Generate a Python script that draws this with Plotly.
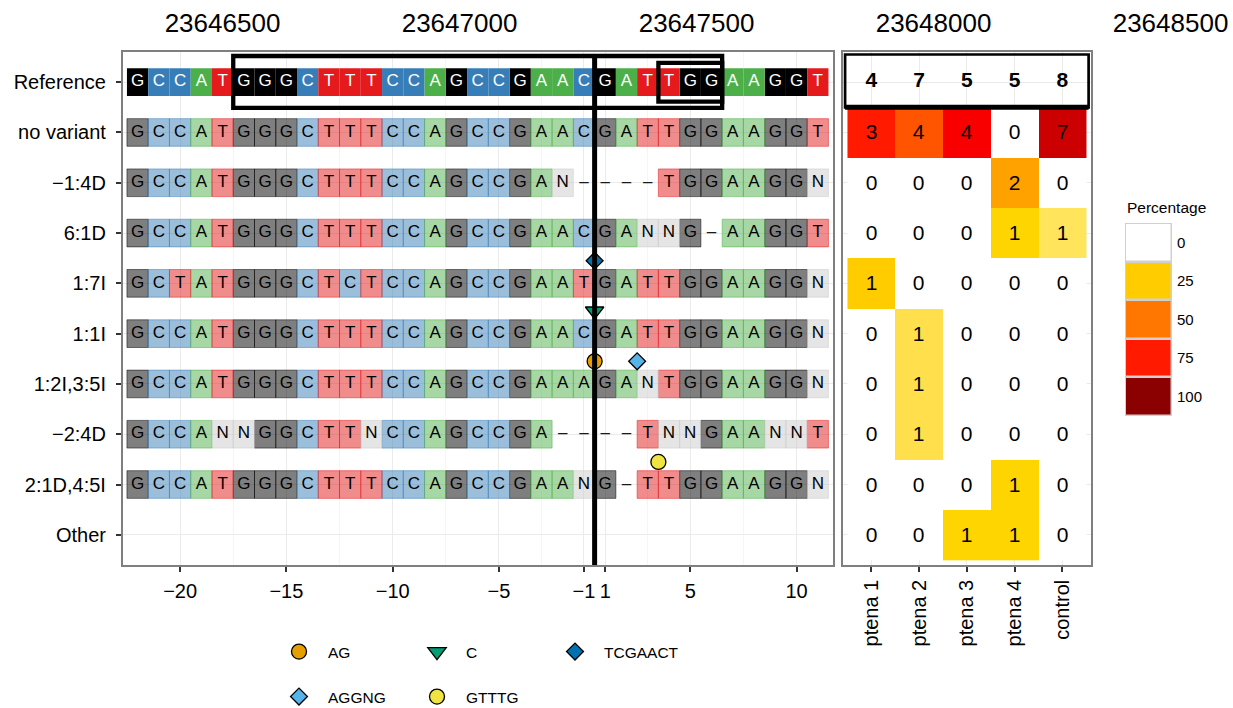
import plotly.graph_objects as go

# ----------------------------- data -----------------------------
row_labels = ["Reference", "no variant", "\u22121:4D", "6:1D", "1:7I", "1:1I",
              "1:2I,3:5I", "\u22122:4D", "2:1D,4:5I", "Other"]

row_sequences = [
    "GCCATGGGCTTTCCAGCCGAACGATTGGAAGGT",
    "GCCATGGGCTTTCCAGCCGAACGATTGGAAGGT",
    "GCCATGGGCTTTCCAGCCGAN----TGGAAGGN",
    "GCCATGGGCTTTCCAGCCGAACGANNG-AAGGT",
    "GCTATGGGCTCTCCAGCCGAATGATTGGAAGGN",
    "GCCATGGGCTTTCCAGCCGAACGATTGGAAGGN",
    "GCCATGGGCTTTCCAGCCGAAAGANTGGAAGGN",
    "GCCANNGGCTTNCCAGCCGA----TNNGAANNT",
    "GCCATGGGCTTTCCAGCCGAANG-TTGGAAGGN",
    "",
]

rel_positions = [-22, -21, -20, -19, -18, -17, -16, -15, -14, -13, -12,
                 -11, -10, -9, -8, -7, -6, -5, -4, -3, -2, -1,
                 1, 2, 3, 4, 5, 6, 7, 8, 9, 10, 11]

x_tick_rel = [-20, -15, -10, -5, -1, 1, 5, 10]

guide_rel = [-17, 6]
pam_rel = [4, 6]
cut_rel = [-1, 1]

ins_seqs = ["AG", "C", "TCGAACT", "AGGNG", "GTTTG"]
ins_rows = ["1:2I,3:5I", "1:1I", "1:7I", "1:2I,3:5I", "2:1D,4:5I"]
ins_start_rel = [1, 1, 1, 3, 4]
ins_colors = ["#E69F00", "#009E73", "#0072B2", "#56B4E9", "#F0E442"]
ins_symbols = ["circle", "triangle-down", "diamond", "diamond", "circle"]
ins_legend = ["legend", "legend", "legend", "legend2", "legend2"]

samples = ["ptena 1", "ptena 2", "ptena 3", "ptena 4", "control"]
sample_totals = [4, 7, 5, 5, 8]
count_no_variant = [3, 4, 4, 0, 7]
count_m1_4D = [0, 0, 0, 2, 0]
count_6_1D = [0, 0, 0, 1, 1]
count_1_7I = [1, 0, 0, 0, 0]
count_1_1I = [0, 1, 0, 0, 0]
count_1_2I_3_5I = [0, 1, 0, 0, 0]
count_m2_4D = [0, 1, 0, 0, 0]
count_2_1D_4_5I = [0, 0, 0, 1, 0]
count_other = [0, 0, 1, 1, 0]
variant_counts = [count_no_variant, count_m1_4D, count_6_1D, count_1_7I, count_1_1I,
                  count_1_2I_3_5I, count_m2_4D, count_2_1D_4_5I, count_other]

genome_ticks = [23646500, 23647000, 23647500, 23648000, 23648500]
pct_breaks = [0, 25, 50, 75, 100]

# ----------------------------- style -----------------------------
W, H = 1233, 708
FONT = "Liberation Sans, Arial, Helvetica, sans-serif"
TILE_H = 0.55

fill_ref = {"A": "#4DAF4A", "C": "#377EB8", "G": "#000000", "T": "#E41A1C"}
fill_var = {"A": "rgba(77,175,74,0.5)", "C": "rgba(55,126,184,0.5)",
            "G": "rgba(0,0,0,0.5)", "T": "rgba(228,26,28,0.5)",
            "N": "rgba(204,204,204,0.5)"}

heat_colorscale = [
    [0.0, "#FFFFFF"], [0.06, "#FFF3B0"], [0.125, "#FFE45C"], [0.143, "#FFE04C"],
    [0.2, "#FFD500"], [0.25, "#FFCC00"], [0.4, "#FFA200"], [0.5, "#FF7700"],
    [0.571, "#FF5500"], [0.75, "#FF1A00"], [0.8, "#F80000"], [0.875, "#CC0000"],
    [1.0, "#8B0000"],
]


def tile_index(rel):
    return rel_positions.index(rel) + 1


n_rows = len(row_labels)
row_y = {lab: n_rows - i for i, lab in enumerate(row_labels)}

fig = go.Figure()

# ---- sequence tiles ----
bars = {}
ref_txt = ([], [], [])
var_txt = ([], [], [])
dash_txt = ([], [], [])
for i, (lab, seq) in enumerate(zip(row_labels, row_sequences)):
    y = row_y[lab]
    is_ref = i == 0
    for j, ch in enumerate(seq):
        xi = j + 1
        if ch == "-":
            dash_txt[0].append(xi); dash_txt[1].append(y); dash_txt[2].append("\u2013")
            continue
        key = ("ref" if is_ref else "var", ch)
        bars.setdefault(key, ([], []))
        bars[key][0].append(xi)
        bars[key][1].append(y)
        t = ref_txt if is_ref else var_txt
        t[0].append(xi); t[1].append(y); t[2].append(ch)

for (kind, ch), (xs, ys) in bars.items():
    if kind == "ref":
        marker = dict(color=fill_ref[ch], line=dict(width=0))
    else:
        marker = dict(color=fill_var[ch], line=dict(color=fill_var[ch], width=1))
    fig.add_trace(go.Bar(x=xs, y=[TILE_H] * len(xs), base=[v - TILE_H / 2 for v in ys],
                         width=1, marker=marker, xaxis="x", yaxis="y",
                         hoverinfo="skip", showlegend=False))

for (xs, ys, ts), col in [(ref_txt, "white"), (var_txt, "black"), (dash_txt, "#1A1A1A")]:
    fig.add_trace(go.Scatter(x=xs, y=ys, text=ts, mode="text",
                             textfont=dict(family=FONT, size=17, color=col),
                             textposition="middle center", xaxis="x", yaxis="y",
                             hoverinfo="skip", showlegend=False))

# ---- insertion markers ----
for seq, rlab, st, col, sym, lg in zip(ins_seqs, ins_rows, ins_start_rel, ins_colors,
                                        ins_symbols, ins_legend):
    size = 15 if sym == "circle" else (13 if sym == "diamond" else 16)
    fig.add_trace(go.Scatter(
        x=[tile_index(st) - 0.5], y=[row_y[rlab] + 0.45], mode="markers", name=seq,
        marker=dict(symbol=sym, size=size, color=col, line=dict(color="black", width=1.3)),
        xaxis="x", yaxis="y", legend=lg, hoverinfo="skip"))

# ---- heatmap ----
heat_y, heat_z, heat_t = [], [], []
for lab, cnts in zip(row_labels[1:], variant_counts):
    heat_y.append(row_y[lab])
    heat_z.append([c / t * 100 for c, t in zip(cnts, sample_totals)])
    heat_t.append([str(c) for c in cnts])
fig.add_trace(go.Heatmap(
    x=list(range(1, len(samples) + 1)), y=heat_y, z=heat_z, text=heat_t,
    texttemplate="%{text}", textfont=dict(family=FONT, size=21, color="black"),
    colorscale=heat_colorscale, zmin=0, zmax=100, showscale=False,
    xaxis="x2", yaxis="y2", hoverinfo="skip"))

fig.add_trace(go.Scatter(
    x=list(range(1, len(samples) + 1)), y=[row_y["Reference"]] * len(samples),
    text=["<b>%d</b>" % t for t in sample_totals], mode="text",
    textfont=dict(family=FONT, size=21, color="black"), xaxis="x2", yaxis="y2",
    hoverinfo="skip", showlegend=False))

# ---- percentage legend ----
fig.add_trace(go.Heatmap(
    x=[0], y=list(range(len(pct_breaks))), z=[[v] for v in pct_breaks],
    colorscale=heat_colorscale, zmin=0, zmax=100, showscale=False,
    xgap=2.5, ygap=2.5, xaxis="x4", yaxis="y4", hoverinfo="skip"))

# ---- genomic coordinate axis (top) ----
fig.add_trace(go.Scatter(x=[genome_ticks[0]], y=[0], mode="markers",
                         marker=dict(opacity=0), xaxis="x3", yaxis="y3",
                         hoverinfo="skip", showlegend=False))

# ---- shapes ----
g0, g1 = tile_index(guide_rel[0]) - 0.5, tile_index(guide_rel[1]) + 0.5
p0, p1 = tile_index(pam_rel[0]) - 0.5, tile_index(pam_rel[1]) + 0.5
cut_x = (tile_index(cut_rel[0]) + tile_index(cut_rel[1])) / 2
ry = row_y["Reference"]
shapes = [
    dict(type="rect", xref="x", yref="y", x0=g0, x1=g1, y0=ry - 0.51, y1=ry + 0.52,
         line=dict(color="black", width=4.3)),
    dict(type="rect", xref="x", yref="y", x0=p0, x1=p1, y0=ry - 0.385, y1=ry + 0.385,
         line=dict(color="black", width=4.3)),
    dict(type="line", xref="x", yref="y", x0=cut_x, x1=cut_x, y0=0.4, y1=ry + 0.52,
         line=dict(color="black", width=5)),
    dict(type="rect", xref="x2", yref="y2", x0=0.45, x1=5.55, y0=ry - 0.5, y1=ry + 0.55,
         fillcolor="white", line=dict(width=0), layer="below"),
    dict(type="rect", xref="x2", yref="y2", x0=0.45, x1=5.55, y0=ry - 0.5, y1=ry + 0.55,
         line=dict(color="black", width=2.7)),
    dict(type="line", xref="x2", yref="y2", x0=0.45, x1=5.55, y0=ry - 0.5, y1=ry - 0.5,
         line=dict(color="black", width=5)),
    dict(type="rect", xref="x4 domain", yref="y4 domain", x0=0, x1=1, y0=0, y1=1,
         fillcolor="#D0D0D0", line=dict(width=0), layer="below"),
]

# ---- axes ----
X1 = [122.7 / W, 832.7 / W]
X2 = [842.7 / W, 1091 / W]
Y1 = [1 - 565 / H, 1 - 52 / H]
tick_font = dict(family=FONT, size=20, color="black")
frame = dict(showline=True, mirror=True, linecolor="#7F7F7F", linewidth=1.5,
             ticks="outside", ticklen=5, tickwidth=1.5, tickcolor="#333333",
             zeroline=False)

xt = [tile_index(v) for v in x_tick_rel]
minor_x = [(a + b) / 2 for a, b in zip(xt[:-1], xt[1:])]

fig.update_layout(
    width=W, height=H, margin=dict(l=0, r=0, t=0, b=0, autoexpand=False),
    paper_bgcolor="white", plot_bgcolor="white", barmode="overlay",
    font=dict(family=FONT, color="black"),
    xaxis=dict(domain=X1, anchor="y", range=[0.3, 33.7], tickmode="array", tickvals=xt,
               ticktext=[str(v).replace("-", "\u2212") for v in x_tick_rel],
               tickfont=tick_font, ticklabelstandoff=2,
               showgrid=True, gridcolor="#EBEBEB", gridwidth=1,
               minor=dict(tickmode="array", tickvals=minor_x, showgrid=True,
                          gridcolor="#F5F5F5", gridwidth=0.8, ticks=""),
               **frame),
    yaxis=dict(domain=Y1, anchor="x", range=[0.4, 10.6], tickmode="array",
               tickvals=[row_y[l] for l in row_labels], ticktext=row_labels,
               tickfont=tick_font, ticklabelstandoff=6,
               showgrid=True, gridcolor="#EBEBEB", gridwidth=1,
               **frame),
    xaxis2=dict(domain=X2, anchor="y2", range=[0.4, 5.6], tickmode="array",
                tickvals=list(range(1, len(samples) + 1)), ticktext=samples,
                tickangle=-90, tickfont=tick_font, ticklabelstandoff=0,
                showgrid=True, gridcolor="#EBEBEB", **frame),
    yaxis2=dict(domain=Y1, anchor="x2", range=[0.4, 10.6], tickmode="array",
                tickvals=[row_y[l] for l in row_labels], showticklabels=False,
                showgrid=True, gridcolor="#EBEBEB", showline=True, mirror=True,
                linecolor="#7F7F7F", linewidth=1.5, ticks="", zeroline=False),
    xaxis3=dict(domain=[0, 1], anchor="y3", side="top",
                range=[23646030.6, 23648631.8], tickmode="array", tickvals=genome_ticks,
                ticktext=[str(v) for v in genome_ticks], showgrid=False, showline=False,
                zeroline=False, ticks="", tickfont=dict(family=FONT, size=26, color="black")),
    yaxis3=dict(domain=[1 - 39 / H, 1 - 38 / H], anchor="x3", visible=False),
    xaxis4=dict(domain=[1125 / W, 1172 / W], anchor="y4", range=[-0.5, 0.5],
                visible=False),
    yaxis4=dict(domain=[1 - 416 / H, 1 - 223 / H], anchor="x4", range=[4.5, -0.5],
                side="right", tickmode="array", tickvals=list(range(len(pct_breaks))),
                ticktext=[str(v) for v in pct_breaks], ticks="", showgrid=False,
                showline=False, zeroline=False, ticklabelstandoff=4,
                tickfont=dict(family=FONT, size=15, color="black")),
    shapes=shapes,
    annotations=[dict(text="Percentage", x=1125 / W, y=1 - 208 / H, xref="paper",
                      yref="paper", xanchor="left", yanchor="middle", showarrow=False,
                      font=dict(family=FONT, size=15.5, color="black"))],
    legend=dict(orientation="h", x=270 / W, y=1 - 652 / H, xanchor="left",
                yanchor="middle", itemwidth=48, entrywidth=75,
                font=dict(family=FONT, size=15.5, color="black"), bgcolor="rgba(0,0,0,0)"),
    legend2=dict(orientation="h", x=270 / W, y=1 - 697 / H, xanchor="left",
                 yanchor="middle", itemwidth=48, entrywidth=75,
                 font=dict(family=FONT, size=15.5, color="black"), bgcolor="rgba(0,0,0,0)"),
)

fig.write_html("out.html", config={"displayModeBar": False},
               post_script="document.body.style.margin='0px';")
